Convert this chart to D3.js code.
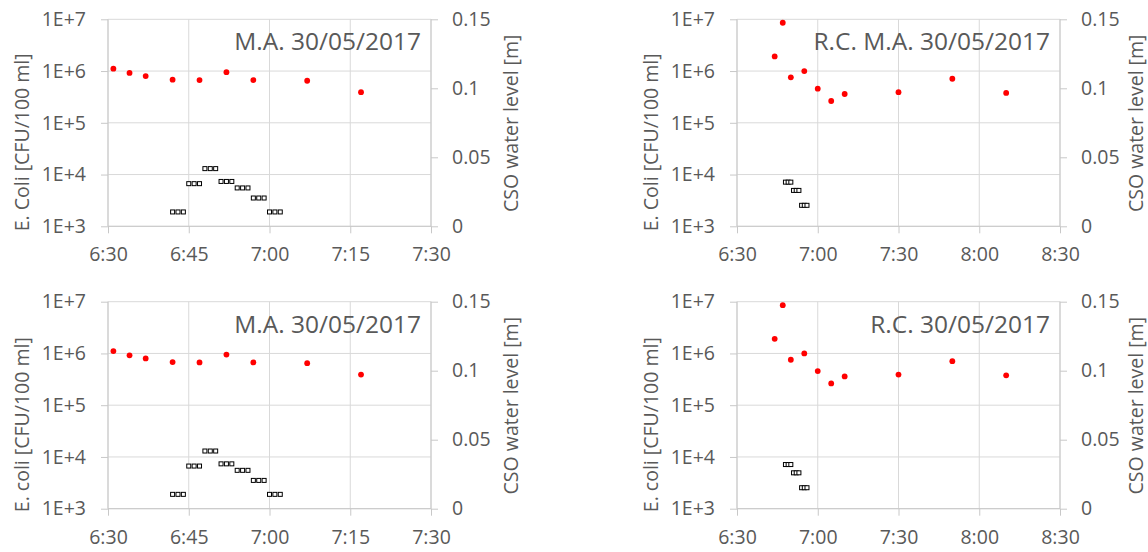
<!DOCTYPE html>
<html>
<head>
<meta charset="utf-8">
<script src="https://cdn.jsdelivr.net/npm/d3@7"></script>
<style>
    body { margin: 0; background: #ffffff; }
    text { font-family: "Open Sans", sans-serif; fill: #595959; }
</style>
</head>
<body>
<div id="chart"></div>
<script>
// E. coli samples, main outlet (M.A.)
let maTimes = ["6:31", "6:34", "6:37", "6:42", "6:47", "6:52", "6:57", "7:07", "7:17"];
let maEcoli = [1.11e6, 0.92e6, 0.80e6, 0.68e6, 0.67e6, 0.95e6, 0.67e6, 0.65e6, 0.39e6];

// CSO water level, main outlet, one reading per minute
let maLevelTimes = ["6:42", "6:43", "6:44", "6:45", "6:46", "6:47", "6:48", "6:49", "6:50",
    "6:51", "6:52", "6:53", "6:54", "6:55", "6:56", "6:57", "6:58", "6:59", "7:00", "7:01", "7:02"];
let maLevel = [0.0104, 0.0104, 0.0104, 0.0309, 0.0309, 0.0309, 0.0418, 0.0418, 0.0418,
    0.0325, 0.0325, 0.0325, 0.0278, 0.0278, 0.0278, 0.0205, 0.0205, 0.0205, 0.0104, 0.0104, 0.0104];

// E. coli samples, R.C.
let rcTimes = ["6:44", "6:47", "6:50", "6:55", "7:00", "7:05", "7:10", "7:30", "7:50", "8:10"];
let rcEcoli = [1.92e6, 8.57e6, 0.755e6, 1.0e6, 0.457e6, 0.264e6, 0.36e6, 0.39e6, 0.71e6, 0.377e6];

// CSO water level, R.C.
let rcLevelTimes = ["6:48", "6:49", "6:50", "6:51", "6:52", "6:53", "6:54", "6:55", "6:56"];
let rcLevel = [0.032, 0.032, 0.032, 0.026, 0.026, 0.026, 0.0152, 0.0152, 0.0152];

// Axis ticks
let ecoliTicks = [1e3, 1e4, 1e5, 1e6, 1e7];
let ecoliLabels = ["1E+3", "1E+4", "1E+5", "1E+6", "1E+7"];
let levelTicks = [0, 0.05, 0.1, 0.15];
let levelLabels = ["0", "0.05", "0.1", "0.15"];
let maTimeTicks = ["6:30", "6:45", "7:00", "7:15", "7:30"];
let rcTimeTicks = ["6:30", "7:00", "7:30", "8:00", "8:30"];

let parseTime = d3.timeParse("%H:%M");

let panels = [
    {left: 108, top: 19.3, title: "M.A. 30/05/2017", ylabel: "E. Coli [CFU/100 ml]",
        times: maTimes, ecoli: maEcoli, levelTimes: maLevelTimes, level: maLevel, xticks: maTimeTicks},
    {left: 737, top: 19.3, title: "R.C. M.A. 30/05/2017", ylabel: "E. Coli [CFU/100 ml]",
        times: rcTimes, ecoli: rcEcoli, levelTimes: rcLevelTimes, level: rcLevel, xticks: rcTimeTicks},
    {left: 108, top: 301.7, title: "M.A. 30/05/2017", ylabel: "E. coli [CFU/100 ml]",
        times: maTimes, ecoli: maEcoli, levelTimes: maLevelTimes, level: maLevel, xticks: maTimeTicks},
    {left: 737, top: 301.7, title: "R.C. 30/05/2017", ylabel: "E. coli [CFU/100 ml]",
        times: rcTimes, ecoli: rcEcoli, levelTimes: rcLevelTimes, level: rcLevel, xticks: rcTimeTicks}
];

let width = 323, height = 207;
let gridColor = "#d9d9d9", axisColor = "#c8c8c8";

let svg = d3.select("#chart").append("svg")
    .attr("width", 1148)
    .attr("height", 552);

panels.forEach(function(p) {
    let g = svg.append("g")
        .attr("transform", "translate(" + p.left + "," + p.top + ")");

    let xt = p.xticks.map(parseTime);
    let x = d3.scaleTime().domain([xt[0], xt[xt.length - 1]]).range([0, width]);
    let y = d3.scaleLog().domain([1e3, 1e7]).range([height, 0]);
    let y2 = d3.scaleLinear().domain([0, 0.15]).range([height, 0]);

    // Horizontal gridlines
    g.selectAll(".hgrid")
        .data(ecoliTicks)
        .enter().append("line")
        .attr("x1", 0).attr("x2", width)
        .attr("y1", d => y(d)).attr("y2", d => y(d))
        .style("stroke", gridColor);

    // Vertical gridlines
    g.selectAll(".vgrid")
        .data(xt)
        .enter().append("line")
        .attr("x1", d => x(d)).attr("x2", d => x(d))
        .attr("y1", 0).attr("y2", height)
        .style("stroke", gridColor);

    // Left axis (log scale)
    let yAxis = g.append("g")
        .call(d3.axisLeft(y).tickValues(ecoliTicks).tickSize(7).tickPadding(15)
            .tickFormat((d, i) => ecoliLabels[i]));

    // Bottom axis
    let xAxis = g.append("g")
        .attr("transform", "translate(0," + height + ")")
        .call(d3.axisBottom(x).tickValues(xt).tickSize(7).tickPadding(14)
            .tickFormat(d3.timeFormat("%-H:%M")));

    // Right axis (water level)
    let y2Axis = g.append("g")
        .attr("transform", "translate(" + width + ",0)")
        .call(d3.axisRight(y2).tickValues(levelTicks).tickSize(7).tickPadding(14)
            .tickFormat((d, i) => levelLabels[i]));

    [yAxis, xAxis, y2Axis].forEach(function(a) {
        a.select(".domain").style("stroke", axisColor);
        a.selectAll(".tick line").style("stroke", axisColor);
        a.selectAll("text")
            .style("font-family", "'Open Sans', sans-serif")
            .style("font-size", "19.5px")
            .style("fill", "#595959");
    });
    y2Axis.select(".domain").attr("d", "M0,0V" + height);
    yAxis.select(".domain").attr("d", "M0,0V" + height);
    xAxis.select(".domain").attr("d", "M0,0H" + width);

    // Water level markers (hollow squares)
    let lt = p.levelTimes.map(parseTime);
    g.selectAll(".level")
        .data(p.level)
        .enter().append("rect")
        .attr("x", (d, i) => x(lt[i]) - 2)
        .attr("y", d => y2(d) - 2)
        .attr("width", 4)
        .attr("height", 4)
        .style("fill", "#ffffff")
        .style("stroke", "#000000")
        .style("stroke-width", 1);

    // E. coli samples
    let st = p.times.map(parseTime);
    g.selectAll(".ecoli")
        .data(p.ecoli)
        .enter().append("circle")
        .attr("cx", (d, i) => x(st[i]))
        .attr("cy", d => y(d))
        .attr("r", 2.9)
        .style("fill", "#ff0000");

    // Panel title
    g.append("text")
        .attr("x", width - 10)
        .attr("y", 31)
        .attr("text-anchor", "end")
        .style("font-size", "24.5px")
        .text(p.title);

    // Axis titles
    g.append("text")
        .attr("transform", "translate(-79," + 123 + ") rotate(-90)")
        .attr("text-anchor", "middle")
        .style("font-size", "19.5px")
        .text(p.ylabel);

    // keep the right-hand title inside the page
    let rx = Math.min(width + 87, 1143 - p.left);
    g.append("text")
        .attr("transform", "translate(" + rx + "," + 104 + ") rotate(-90)")
        .attr("text-anchor", "middle")
        .style("font-size", "19.5px")
        .text("CSO water level [m]");
});
</script>
</body>
</html>
